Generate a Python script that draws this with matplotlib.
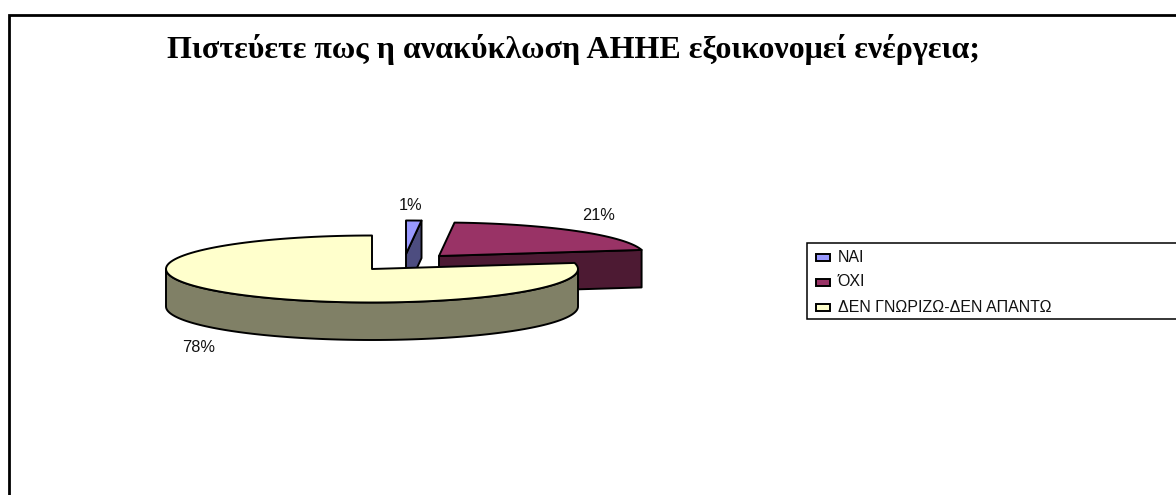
# -*- coding: utf-8 -*-
import numpy as np
import matplotlib
matplotlib.use("Agg")
import matplotlib.pyplot as plt
from matplotlib.patches import Polygon, Rectangle

# survey answers, labels on the chart are rounded
categories = ["ΝΑΙ", "ΌΧΙ", "ΔΕΝ ΓΝΩΡΙΖΩ-ΔΕΝ ΑΠΑΝΤΩ"]
values = [1.2, 20.9, 77.9]
title = "Πιστεύετε πως η ανακύκλωση ΑΗΗΕ εξοικονομεί ενέργεια;"

top_colors = ["#9999FF", "#993366", "#FFFFCC"]
side_colors = ["#4D4D80", "#4D1A33", "#808066"]

# pie layout, in pixels of the picture
centers = [(406, 254), (439, 256), (372, 269)]
label_pos = [(411, 205), (599, 216), (199, 347.5)]
rx, ry = 206, 33.5
depth = 37.5

W, H = 1176, 495
fig = plt.figure(figsize=(W / 100, H / 100), dpi=100)
ax = fig.add_axes([0, 0, 1, 1])
ax.set_xlim(0, W)
ax.set_ylim(H, 0)
ax.axis("off")


def rim(cx, cy, a0, a1, n=120):
    t = np.radians(np.linspace(a0, a1, n))
    return np.column_stack([cx + rx * np.sin(t), cy - ry * np.cos(t)])


# frame
ax.plot([9, 9, W + 5], [H + 5, 14.5, 14.5], color="black", lw=2.0, solid_joinstyle="miter")

ax.text(167, 58, title, family="Liberation Serif", weight="bold", fontsize=23,
        ha="left", va="baseline", color="black")

ends = np.cumsum(values) / sum(values) * 360
starts = np.concatenate([[0], ends[:-1]])
edge = dict(edgecolor="black", linewidth=1.4, joinstyle="round")

for i in range(len(values)):
    cx, cy = centers[i]
    a0, a1 = starts[i], ends[i]
    top = np.vstack([[cx, cy], rim(cx, cy, a0, a1)])
    down = np.array([0, depth])
    if i < 2:
        # cut face at the end of the slice faces the viewer
        p = rim(cx, cy, a1, a1, 1)[0]
        face = np.array([[cx, cy], p, p + down, [cx, cy + depth]])
        ax.add_patch(Polygon(face, facecolor=side_colors[i], **edge))
    else:
        # outer wall, lower half of the rim
        r = rim(cx, cy, 90, 270)
        wall = np.vstack([r, (r + down)[::-1]])
        ax.add_patch(Polygon(wall, facecolor=side_colors[i], **edge))
    ax.add_patch(Polygon(top, facecolor=top_colors[i], **edge))

for v, (x, y) in zip(values, label_pos):
    ax.text(x, y, f"{v:.0f}%", family="Liberation Sans", fontsize=11.8, ha="center", va="center", color="#111111")

# legend, its box runs off the right side
ax.add_patch(Rectangle((806.5, 243), W, 76, facecolor="white", edgecolor="black", linewidth=1.1))
for cat, col, y in zip(categories, top_colors, [257, 282, 307]):
    ax.add_patch(Rectangle((816, y - 3.5), 14, 7.5, facecolor=col, edgecolor="black", linewidth=1.4))
    ax.text(837.5, y, cat, family="Liberation Sans", fontsize=11.5, ha="left", va="center", color="#111111")

fig.savefig("out.png", dpi=100)
